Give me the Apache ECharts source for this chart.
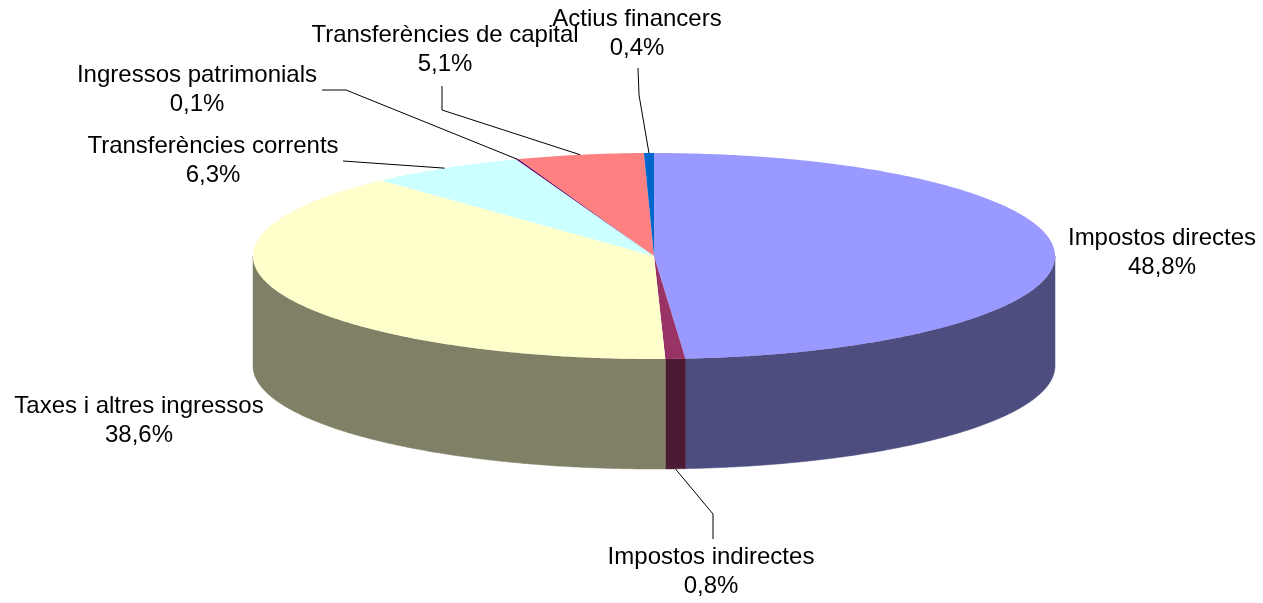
<!DOCTYPE html>
<html>
<head>
<meta charset="utf-8">
<title>Ingressos</title>
<script src="https://cdn.jsdelivr.net/npm/echarts@6/dist/echarts.min.js"></script>
<style>
  html, body { margin: 0; padding: 0; background: #fff; }
  #chart { width: 1263px; height: 603px; }
</style>
</head>
<body>
<div id="chart"></div>
<script>
// data (clockwise from 12 o'clock)
const categories = ['Impostos directes', 'Impostos indirectes', 'Taxes i altres ingressos', 'Transferències corrents', 'Ingressos patrimonials', 'Transferències de capital', 'Actius financers']
const values = [48.8, 0.8, 38.6, 6.3, 0.1, 5.1, 0.4]
const colors = ['#9999FF', '#993366', '#FFFFCC', '#CCFFFF', '#660066', '#FF8080', '#0066CC']

// label layout: text centre + leader bends (label side first)
const labelPos = [[1162, 253], [711, 572], [139, 421], [213, 161], [197, 90], [445, 50], [637, 34]]
const leaderBends = [null, [[713, 539], [713, 514]], null, [[343, 161]], [[322, 90], [346, 90]], [[442, 86], [442, 110]], [[638, 68], [639, 95]]]

// ellipse geometry for the fake 3d pie
const cx = 654, cy = 256, rx = 401, ry = 103, depth = 110

const total = values.reduce((a, b) => a + b, 0)

function pt(deg, dy) {
  const r = deg * Math.PI / 180
  return [cx + rx * Math.sin(r), cy - ry * Math.cos(r) + (dy || 0)]
}

function angles(i) {
  let before = 0
  for (let k = 0; k < i; k++) before += values[k]
  return [before / total * 360, (before + values[i]) / total * 360]
}

function shade(hex) {
  const n = parseInt(hex.slice(1), 16)
  const r = Math.round((n >> 16) * 0.5), g = Math.round(((n >> 8) & 255) * 0.5), b = Math.round((n & 255) * 0.5)
  return 'rgb(' + r + ',' + g + ',' + b + ')'
}

function fmt(v) {
  return v.toFixed(1).replace('.', ',') + '%'
}

// front wall of each slice
function renderWall(params, api) {
  const i = params.dataIndex
  const ang = angles(i)
  const a0 = Math.max(ang[0], 90), a1 = Math.min(ang[1], 270)
  if (a1 <= a0) return { type: 'group', children: [] }
  const pts = []
  for (let a = a0; a < a1; a += 0.5) pts.push(pt(a, 0))
  pts.push(pt(a1, 0))
  for (let a = a1; a > a0; a -= 0.5) pts.push(pt(a, depth))
  pts.push(pt(a0, depth))
  const c = shade(colors[i])
  return {
    type: 'polygon',
    shape: { points: pts },
    style: { fill: c, stroke: c, lineWidth: 0.5 }
  }
}

// top face + label + leader
function renderTop(params, api) {
  const i = params.dataIndex
  const ang = angles(i)
  const pts = [[cx, cy]]
  for (let a = ang[0]; a < ang[1]; a += 0.5) pts.push(pt(a, 0))
  pts.push(pt(ang[1], 0))
  const children = [{
    type: 'polygon',
    shape: { points: pts },
    style: { fill: colors[i] }
  }]
  const mid = (ang[0] + ang[1]) / 2
  if (leaderBends[i]) {
    // front slices hang the leader off the bottom rim
    const front = mid > 90 && mid < 270
    const line = leaderBends[i].concat([pt(mid, front ? depth : 0)])
    children.push({
      type: 'polyline',
      shape: { points: line },
      style: { stroke: '#000', lineWidth: 1, fill: null }
    })
  }
  children.push({
    type: 'text',
    style: {
      text: categories[i] + '\n' + fmt(api.value(0)),
      x: labelPos[i][0],
      y: labelPos[i][1],
      align: 'center',
      verticalAlign: 'middle',
      lineHeight: 29,
      font: '24px "Liberation Sans", Arial, sans-serif',
      fill: '#000'
    }
  })
  return { type: 'group', children: children }
}

const chart = echarts.init(document.getElementById('chart'))
chart.setOption({
  animation: false,
  backgroundColor: '#fff',
  series: [
    {
      type: 'custom',
      coordinateSystem: 'none',
      renderItem: renderWall,
      data: values.map(v => [v]),
      z: 1,
      silent: true
    },
    {
      type: 'custom',
      coordinateSystem: 'none',
      renderItem: renderTop,
      data: values.map(v => [v]),
      z: 2,
      silent: true
    }
  ]
})
</script>
</body>
</html>
